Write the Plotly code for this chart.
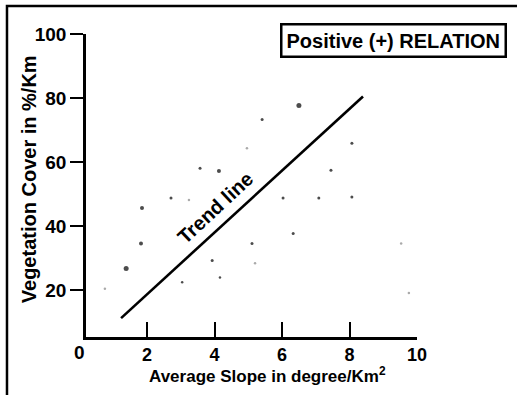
import plotly.graph_objects as go

# Scatter points (Average slope, Vegetation cover)
dark_x = [1.38, 1.82, 1.85, 2.71, 3.57, 4.13, 5.41, 6.50, 8.07, 7.45, 6.03, 7.09, 8.07, 3.93, 3.04, 4.16, 6.33, 5.11]
dark_y = [26.8, 34.6, 45.7, 48.8, 58.1, 57.2, 73.3, 77.7, 65.9, 57.5, 48.8, 48.8, 49.1, 29.3, 22.5, 24.0, 37.7, 34.6]
dark_size = [5, 4, 4, 3, 3, 4, 3, 5, 3, 3, 3, 3, 3, 3, 2.5, 2.5, 3, 3]

faint_x = [3.24, 4.96, 5.20, 9.53, 9.76, 0.75]
faint_y = [48.2, 64.3, 28.4, 34.6, 19.1, 20.5]

trend_x = [1.23, 8.40]
trend_y = [11.3, 80.5]

x_ticks = [2, 4, 6, 8, 10]
y_ticks = [20, 40, 60, 80, 100]

FONT = "Liberation Sans, Arial, sans-serif"

fig = go.Figure()
fig.add_trace(go.Scatter(x=trend_x, y=trend_y, mode="lines",
                         line=dict(color="black", width=2.6), hoverinfo="skip"))
fig.add_trace(go.Scatter(x=dark_x, y=dark_y, mode="markers",
                         marker=dict(color="#000000", size=dark_size, line=dict(width=0))))
fig.add_trace(go.Scatter(x=faint_x, y=faint_y, mode="markers",
                         marker=dict(color="#aaaaaa", size=2.5, line=dict(width=0))))

fig.update_layout(
    width=517, height=395,
    margin=dict(l=86, r=100, t=34, b=58),
    paper_bgcolor="white", plot_bgcolor="white",
    showlegend=False,
    font=dict(family=FONT, color="black"),
    xaxis=dict(range=[0.19, 10], tickvals=x_ticks, ticktext=[str(v) for v in x_ticks],
               showline=True, linecolor="black", linewidth=2.5,
               ticks="inside", ticklen=15, tickwidth=2.2, tickcolor="black",
               showgrid=False, zeroline=False,
               tickfont=dict(size=18, family=FONT, weight="bold", color="black")),
    yaxis=dict(range=[5.4, 100], tickvals=y_ticks, ticktext=[str(v) for v in y_ticks],
               showline=True, linecolor="black", linewidth=2.5,
               ticks="outside", ticklen=13, tickwidth=2.2, tickcolor="black",
               showgrid=False, zeroline=False,
               tickfont=dict(size=19, family=FONT, weight="bold", color="black")),
    shapes=[dict(type="rect", xref="paper", yref="paper",
                 x0=-0.2387, x1=1.35, y0=-0.25, y1=1.0924,
                 line=dict(color="black", width=2.5), fillcolor="rgba(0,0,0,0)")],
    annotations=[
        dict(text="0", xref="paper", yref="paper", x=-0.021, y=-0.05,
             xanchor="center", yanchor="middle", showarrow=False,
             font=dict(size=19, family=FONT, weight="bold")),
        dict(text="Average Slope in degree/Km<sup>2</sup>", xref="paper", yref="paper",
             x=0.547, y=-0.125, xanchor="center", yanchor="middle", showarrow=False,
             font=dict(size=17, family=FONT, weight="bold")),
        dict(text="Vegetation Cover in %/Km", xref="paper", yref="paper",
             x=-0.172, y=0.521, xanchor="center", yanchor="middle", showarrow=False,
             textangle=-90, font=dict(size=20, family=FONT, weight="bold")),
        dict(text="Positive (+) RELATION", xref="paper", yref="paper",
             x=0.930, y=0.980, xanchor="center", yanchor="middle", showarrow=False,
             bordercolor="black", borderwidth=2.5, borderpad=4, bgcolor="white",
             font=dict(size=20, family=FONT, weight="bold")),
        dict(text="Trend line", xref="x", yref="y", x=4.01, y=45.7,
             xanchor="center", yanchor="middle", showarrow=False, textangle=-43,
             font=dict(size=20, family=FONT, weight="bold")),
    ],
)

fig.write_html("out.html", config={"displayModeBar": False},
               post_script="document.body.style.margin='0';")
